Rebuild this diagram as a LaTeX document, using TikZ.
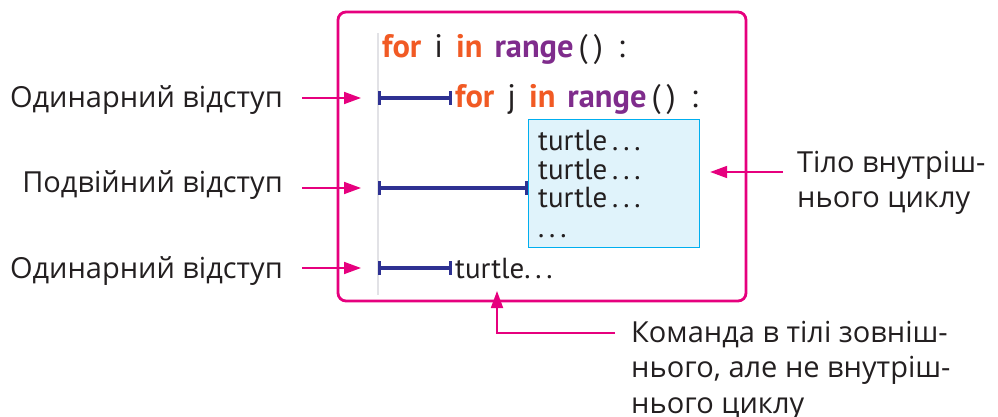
\documentclass[tikz,border=0pt]{standalone}
\usepackage{fontspec}
\setmainfont{Open Sans}
\newfontfamily\codefont{PT Sans}
\usepackage{xcolor}
\usetikzlibrary{arrows.meta}
\definecolor{FrameMagenta}{RGB}{230,0,126}
\definecolor{KeyOrange}{RGB}{241,90,36}
\definecolor{FuncPurple}{RGB}{127,44,140}
\definecolor{IndentNavy}{RGB}{46,49,146}
\definecolor{BodyCyan}{RGB}{0,174,239}
\definecolor{BodyFill}{RGB}{224,243,251}
\definecolor{GuideGrey}{RGB}{226,226,230}
\definecolor{LabelText}{RGB}{35,31,32}
\newcommand{\kwd}[1]{\textbf{\textcolor{KeyOrange}{#1}}}
\newcommand{\fnc}[1]{\textbf{\textcolor{FuncPurple}{#1}}}
\newcommand{\loophead}[1]{\fontsize{32.5}{34}\selectfont\kwd{for}\hspace{13pt}#1\hspace{13pt}\kwd{in}\hspace{12pt}\fnc{range}\hspace{5pt}(\hspace{6pt})\hspace{15pt}:}

\begin{document}
\begin{tikzpicture}[x=1pt,y=-1pt,
    label/.style={inner sep=0pt,text=LabelText,font=\fontsize{29}{35.5}\selectfont},
    code/.style={inner sep=0pt,anchor=base west,text=LabelText,font=\codefont\fontsize{29}{31}\selectfont},
    indent/.style={draw=IndentNavy,line width=3.2pt,{Bar[width=14pt]}-{Bar[width=14pt]}},
    pointer/.style={draw=FrameMagenta,line width=1.8pt,-{Triangle[length=17pt,width=12pt]}}]
  \useasboundingbox (0,0) rectangle (998,417);
  % outer loop frame
  \draw[FrameMagenta,line width=2.8pt,rounded corners=8pt] (338,12) rectangle (746,301);
  \draw[GuideGrey,line width=2.4pt] (378,33) -- (378,295);
  % code lines
  \node[code] (outer) at (382,58) {\loophead{i}};
  \node[code] (inner) at (455,108) {\loophead{j}};
  \node[draw=BodyCyan,fill=BodyFill,line width=1.2pt,minimum width=171pt,minimum height=128pt,
        anchor=north west,inner sep=0pt] (body) at (528,119) {};
  \foreach \y/\t [count=\k] in {150/turtle\,.\,.\,.,179/turtle\,.\,.\,.,207/turtle\,.\,.\,.,237/.\,.\,.}
    \node[code] (cmd\k) at (538,\y) {\t};
  \node[code] (tail) at (455,278) {turtle.\,.\,.};
  % indent bars
  \coordinate (bar1s) at (378,98);
  \coordinate (bar2s) at (378,188);
  \coordinate (bar3s) at (378,268);
  \draw[indent] (bar1s) -- ([xshift=-3pt]bar1s -| inner.west);
  \draw[indent] (bar2s) -- (bar2s -| body.west);
  \draw[indent] (bar3s) -- ([xshift=-3pt]bar3s -| tail.west);
  % labels
  \node[label,anchor=base east] (single1) at (283,108) {Одинарний відступ};
  \node[label,anchor=base east] (double) at (283,192) {Подвійний відступ};
  \node[label,anchor=base east] (single2) at (283,278) {Одинарний відступ};
  \node[label,anchor=north west,align=left] (bodylab) at (797,151) {Тіло внутріш-\\нього циклу};
  \node[label,anchor=north west,align=left] (taillab) at (631,321) {Команда в тілі зовніш-\\нього, але не внутріш-\\нього циклу};
  % pointers
  \draw[pointer] ([xshift=19pt]single1.east |- bar1s) -- ([xshift=-17pt]bar1s);
  \draw[pointer] ([xshift=19pt]double.east |- bar2s) -- ([xshift=-17pt]bar2s);
  \draw[pointer] ([xshift=19pt]single2.east |- bar3s) -- ([xshift=-17pt]bar3s);
  \draw[pointer] ([xshift=-14pt]bodylab.west |- 0,172) -- ([xshift=10pt]body.east |- 0,172);
  \draw[pointer] ([xshift=-16pt]taillab.west |- 0,333) -| ([yshift=-13pt]tail.base -| 497,0);
\end{tikzpicture}
\end{document}
